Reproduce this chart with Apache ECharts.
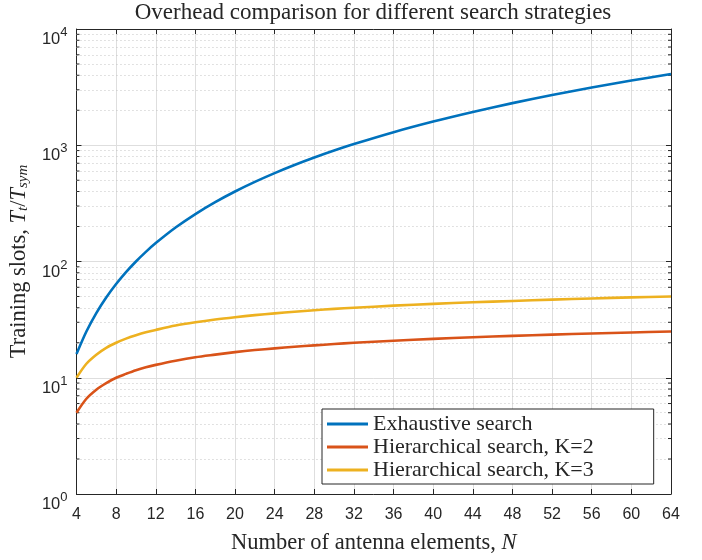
<!DOCTYPE html>
<html>
<head>
<meta charset="utf-8">
<script src="https://cdn.jsdelivr.net/npm/echarts@6/dist/echarts.min.js"></script>
<style>
  html, body { margin: 0; padding: 0; background: #fff; }
  #chart { width: 702px; height: 560px; }
</style>
</head>
<body>
<div id="chart"></div>
<script>
// antenna elements N (x) and training slots
const antennaN = [4, 5, 6, 7, 8, 9, 10, 11, 12, 14, 16, 18, 20, 22, 24, 26, 28, 30, 32, 36, 40, 44, 48, 52, 56, 60, 64];
const exhaustive = [16, 25, 36, 49, 64, 81, 100, 121, 144, 196, 256, 324, 400, 484, 576, 676, 784, 900, 1024, 1296, 1600, 1936, 2304, 2704, 3136, 3600, 4096];
const hierK2 = [5, 6.6, 7.9, 9.0, 10, 10.8, 11.6, 12.3, 12.9, 14.0, 15, 15.8, 16.6, 17.3, 17.9, 18.5, 19.0, 19.5, 20, 20.8, 21.6, 22.3, 22.9, 23.5, 24.0, 24.5, 25];
const hierK3 = [10, 13.2, 15.8, 18.1, 20, 21.7, 23.2, 24.6, 25.8, 28.1, 30, 31.7, 33.2, 34.6, 35.8, 37.0, 38.1, 39.1, 40, 41.7, 43.2, 44.6, 45.8, 47.0, 48.1, 49.1, 50];

const seriesNames = ['Exhaustive search', 'Hierarchical search, K=2', 'Hierarchical search, K=3'];
const seriesColors = ['#0072BD', '#D95319', '#EDB120'];

// minor (log) grid positions
const minorTicks = [2, 3, 4, 5, 6, 7, 8, 9,
  20, 30, 40, 50, 60, 70, 80, 90,
  200, 300, 400, 500, 600, 700, 800, 900,
  2000, 3000, 4000, 5000, 6000, 7000, 8000, 9000];

const serif = 'Liberation Serif';
const sans = 'Liberation Sans';
const ink = '#262626';

const pairs = (ys) => antennaN.map((n, i) => [n, ys[i]]);

let chart = echarts.init(document.getElementById('chart'));

const curve = (i, ys) => ({
  name: seriesNames[i],
  type: 'line',
  data: pairs(ys),
  symbol: 'none',
  smooth: 0.3,
  z: 5,
  color: seriesColors[i],
  itemStyle: { color: seriesColors[i], borderWidth: 0 },
  lineStyle: { width: 2.6, color: seriesColors[i], type: 'solid' }
});

let option = {
  animation: false,
  backgroundColor: '#fff',
  title: {
    text: 'Overhead comparison for different search strategies',
    left: 373,
    textAlign: 'center',
    top: 1,
    padding: 0,
    textStyle: { fontFamily: serif, fontSize: 23, fontWeight: 'normal', color: ink }
  },
  grid: { left: 76, right: 31, top: 29, bottom: 61 },
  legend: {
    z: 20,
    orient: 'vertical',
    left: 322,
    top: 409,
    padding: [4, 60, 3, 5],
    itemGap: 1,
    itemWidth: 41,
    itemHeight: 3,
    icon: 'path://M0,0 H41 V3 H0 Z',
    itemStyle: { borderWidth: 0, borderColor: 'transparent', decal: 'none' },
    backgroundColor: '#fff',
    borderColor: ink,
    borderWidth: 1,
    borderRadius: 0,
    textStyle: { fontFamily: serif, fontSize: 22, color: ink, lineHeight: 22 },
    data: seriesNames
  },
  xAxis: [
    {
      type: 'value',
      min: 4,
      max: 64,
      interval: 4,
      name: '{n|Number of antenna elements, }{i|N}',
      nameLocation: 'middle',
      nameGap: 38,
      nameTextStyle: {
        rich: {
          n: { fontFamily: serif, fontSize: 22.5, color: ink },
          i: { fontFamily: serif, fontSize: 22.5, fontStyle: 'italic', color: ink }
        }
      },
      axisLine: { lineStyle: { color: ink, width: 1 } },
      axisTick: { inside: true, length: 5, lineStyle: { color: ink } },
      axisLabel: { margin: 13, fontFamily: sans, fontSize: 16, color: ink },
      splitLine: { show: true, lineStyle: { color: '#dedede', width: 1 } }
    },
    {
      type: 'value',
      position: 'top',
      min: 4,
      max: 64,
      interval: 4,
      axisLine: { show: true, lineStyle: { color: ink, width: 1 } },
      axisTick: { show: true, inside: true, length: 5, lineStyle: { color: ink } },
      axisLabel: { show: false },
      splitLine: { show: false }
    }
  ],
  yAxis: [
    {
      type: 'log',
      logBase: 10,
      min: 1,
      max: 10000,
      name: '{n|Training slots, }{i|T}{s|t}{n|/}{i|T}{s|sym}',
      nameLocation: 'middle',
      nameGap: 44,
      nameTextStyle: {
        rich: {
          n: { fontFamily: serif, fontSize: 22.5, color: ink, lineHeight: 26, verticalAlign: 'bottom' },
          i: { fontFamily: serif, fontSize: 22.5, fontStyle: 'italic', color: ink, lineHeight: 26, verticalAlign: 'bottom' },
          s: { fontFamily: serif, fontSize: 15, fontStyle: 'italic', color: ink, lineHeight: 18, verticalAlign: 'bottom' }
        }
      },
      axisLine: { show: true, lineStyle: { color: ink, width: 1 } },
      axisTick: { inside: true, length: 5, lineStyle: { color: ink } },
      axisLabel: {
        margin: 9,
        padding: [16, 0, 0, 0],
        formatter: (v) => '{b|10}{s|' + Math.round(Math.log10(v)) + '}',
        rich: {
          b: { fontFamily: sans, fontSize: 16.5, color: ink, lineHeight: 22, verticalAlign: 'bottom' },
          s: { fontFamily: sans, fontSize: 13, color: ink, lineHeight: 13, verticalAlign: 'top' }
        }
      },
      splitLine: { show: true, lineStyle: { color: '#dedede', width: 1 } }
    },
    {
      type: 'log',
      logBase: 10,
      min: 1,
      max: 10000,
      position: 'right',
      axisLine: { show: true, lineStyle: { color: ink, width: 1 } },
      axisTick: { show: true, inside: true, length: 5, lineStyle: { color: ink } },
      axisLabel: { show: false },
      splitLine: { show: false }
    }
  ],
  series: [
    {
      // dotted minor grid
      name: 'minor-grid',
      type: 'line',
      data: [],
      silent: true,
      z: 1,
      markLine: {
        z: 1,
        silent: true,
        symbol: ['none', 'none'],
        label: { show: false },
        lineStyle: { color: '#c4c4c4', width: 1, type: [1, 3] },
        data: minorTicks.map(v => ({ yAxis: v }))
      }
    },
    {
      // minor tick marks on left and right edges
      name: 'minor-ticks',
      type: 'custom',
      silent: true,
      z: 2,
      clip: false,
      data: minorTicks.map(v => [4, v]),
      renderItem: (params, api) => {
        const v = api.value(1);
        const l = api.coord([4, v]);
        const r = api.coord([64, v]);
        return {
          type: 'group',
          children: [
            { type: 'line', shape: { x1: l[0], y1: l[1], x2: l[0] + 3, y2: l[1] }, style: { stroke: ink, lineWidth: 1 } },
            { type: 'line', shape: { x1: r[0] - 3, y1: r[1], x2: r[0], y2: r[1] }, style: { stroke: ink, lineWidth: 1 } }
          ]
        };
      }
    },
    curve(0, exhaustive),
    curve(1, hierK2),
    curve(2, hierK3)
  ]
};

option && chart.setOption(option);
</script>
</body>
</html>
